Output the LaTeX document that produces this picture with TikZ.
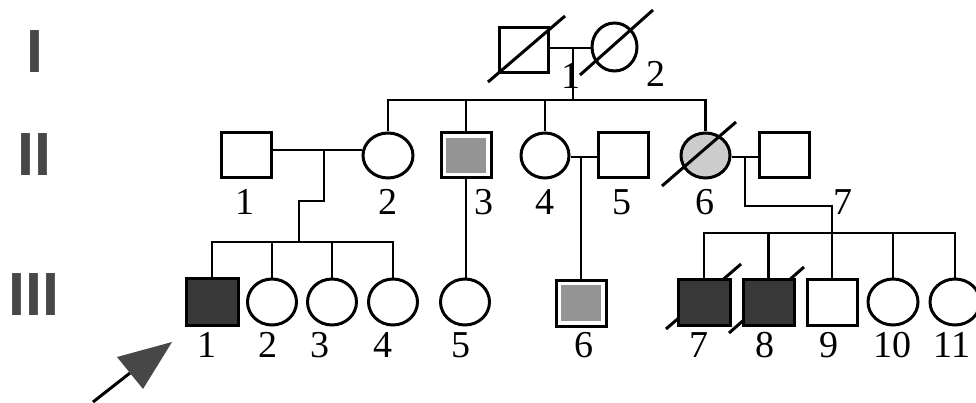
\documentclass[tikz,border=0pt]{standalone}
\usepackage{fontspec}
\setmainfont{Liberation Serif}
\newfontfamily\romfont{Liberation Sans}
\usetikzlibrary{shapes.geometric}
\begin{document}
\begin{tikzpicture}[x=1pt,y=-1pt,
  ln/.style={line width=2.5pt,line join=miter},
  sq/.style={draw,line width=3pt,minimum width=50pt,minimum height=45pt,inner sep=0pt},
  ci/.style={ellipse,draw,line width=3pt,minimum width=49pt,minimum height=46pt,inner sep=0pt},
  affected/.style={fill=black!78},
  carrier/.style={path picture={\fill[black!42] ([shift={(5pt,-5pt)}]path picture bounding box.north west) rectangle ([shift={(-5pt,5pt)}]path picture bounding box.south east);}},
  carrierlight/.style={fill=black!20},
  dead/.style={line width=3pt},
  lab/.style={font=\fontsize{38}{40}\selectfont,inner sep=0pt},
  gen/.style={font=\romfont\bfseries\fontsize{61}{61}\selectfont,text=black!72,inner sep=0pt}]
\useasboundingbox (0,0) rectangle (976,403);
% generation labels
\node[gen] (gI) at (35,52) {I};
\node[gen] (gII) at (34,155) {II};
\node[gen] (gIII) at (34,294.5) {III};
% generation I
\draw[dead] (488,82) coordinate (dI1a) -- (565,16) coordinate (dI1b);
\node[sq,minimum width=49pt] (I1) at (523.5,50.5) {};
\node[ci,minimum width=45pt,minimum height=48pt] (I2) at (614.5,47) {};
\draw[dead] (580,75) coordinate (dI2a) -- (653,10) coordinate (dI2b);
\node[lab] (lI1) at (571,76) {1};
\node[lab] (lI2) at (656,74) {2};
% generation II
\node[sq] (II1) at (246.5,155.5) {};
\node[ci,minimum width=50pt,minimum height=45pt] (II2) at (388,155.5) {};
\node[sq,carrier] (II3) at (466,155.5) {};
\node[ci,minimum width=48pt,minimum height=45pt] (II4) at (545,155.5) {};
\node[sq] (II5) at (623,155.5) {};
\node[ci,carrierlight,minimum width=49pt,minimum height=45pt] (II6) at (705.5,155.5) {};
\draw[dead] (662,186) coordinate (dII6a) -- (736,122) coordinate (dII6b);
\node[sq] (II7) at (784,155.5) {};
\node[lab] (lII1) at (245,202) {1};
\node[lab] (lII2) at (388,202) {2};
\node[lab] (lII3) at (484,202) {3};
\node[lab] (lII4) at (545,202) {4};
\node[lab] (lII5) at (622,202) {5};
\node[lab] (lII6) at (705,202) {6};
\node[lab] (lII7) at (843,202) {7};
% generation III
\draw[dead] (666,329) coordinate (dIII7a) -- (741,264) coordinate (dIII7b);
\draw[dead] (729,333) coordinate (dIII8a) -- (804,267) coordinate (dIII8b);
\node[sq,affected,minimum width=52pt,minimum height=47pt] (III1) at (212,301.5) {};
\node[ci] (III2) at (272,302) {};
\node[ci] (III3) at (332,302) {};
\node[ci] (III4) at (393,302) {};
\node[ci] (III5) at (465,302) {};
\node[sq,carrier,minimum height=46pt] (III6) at (581,303) {};
\node[sq,affected,minimum width=52pt,minimum height=46pt] (III7) at (704,302) {};
\node[sq,affected,minimum width=51pt,minimum height=46pt] (III8) at (768.5,302) {};
\node[sq,minimum height=46pt] (III9) at (832,302) {};
\node[ci,minimum width=50pt] (III10) at (893,302) {};
\node[ci,minimum width=50pt] (III11) at (955,302) {};
\node[lab] (lIII1) at (207,345) {1};
\node[lab] (lIII2) at (268,345) {2};
\node[lab] (lIII3) at (320,345) {3};
\node[lab] (lIII4) at (383,345) {4};
\node[lab] (lIII5) at (461,345) {5};
\node[lab] (lIII6) at (584,345) {6};
\node[lab] (lIII7) at (699,345) {7};
\node[lab] (lIII8) at (765,345) {8};
\node[lab] (lIII9) at (829,345) {9};
\node[lab] (lIII10) at (892,345) {10};
\node[lab] (lIII11) at (952,345) {11};
% connectors generation I -> II
\coordinate (m0) at (573,48);
\coordinate (s0) at (573,100);
\draw[ln] (I1.east |- m0) -- (I2.west |- m0);
\draw[ln] (m0) -- (s0);
\draw[ln] (II2.north) -- (II2.north |- s0) -- (II6.north |- s0) -- (II6.north);
\draw[ln] (II3.north) -- (II3.north |- s0);
\draw[ln] (II4.north) -- (II4.north |- s0);
% II1 x II2
\coordinate (m1) at (324,150);
\coordinate (k1) at (324,201);
\coordinate (k2) at (299,201);
\coordinate (s1) at (299,242);
\draw[ln] (II1.east |- m1) -- (II2.west |- m1);
\draw[ln] (m1) -- (k1) -- (k2) -- (s1);
\draw[ln] (III1.north) -- (III1.north |- s1) -- (III4.north |- s1) -- (III4.north);
\draw[ln] (III2.north) -- (III2.north |- s1);
\draw[ln] (III3.north) -- (III3.north |- s1);
% II3 -> III5
\draw[ln] (II3.south) -- (II3.south |- III5.north);
% II4 x II5
\coordinate (m2) at (581,157);
\draw[ln] (II4.east |- m2) -- (II5.west |- m2);
\draw[ln] (m2) -- (m2 |- III6.north);
% II6 x II7
\coordinate (m3) at (745,157);
\coordinate (k3) at (745,206);
\coordinate (k4) at (832,206);
\coordinate (s3) at (832,233);
\draw[ln] (II6.east |- m3) -- (II7.west |- m3);
\draw[ln] (m3) -- (k3) -- (k4) -- (III9.north);
\draw[ln] (III7.north) -- (III7.north |- s3) -- (III11.north |- s3) -- (III11.north);
\draw[ln] (III8.north) -- (III8.north |- s3);
\draw[ln] (III10.north) -- (III10.north |- s3);
% proband arrow
\coordinate (aT) at (172,342);
\coordinate (aL) at (117,357);
\coordinate (aR) at (143,389);
\coordinate (aB) at (130,373);
\coordinate (aS) at (93,402);
\draw[line width=3pt] (aS) -- (aB);
\fill[black!72] (aT) -- (aL) -- (aR) -- cycle;
\end{tikzpicture}
\end{document}
